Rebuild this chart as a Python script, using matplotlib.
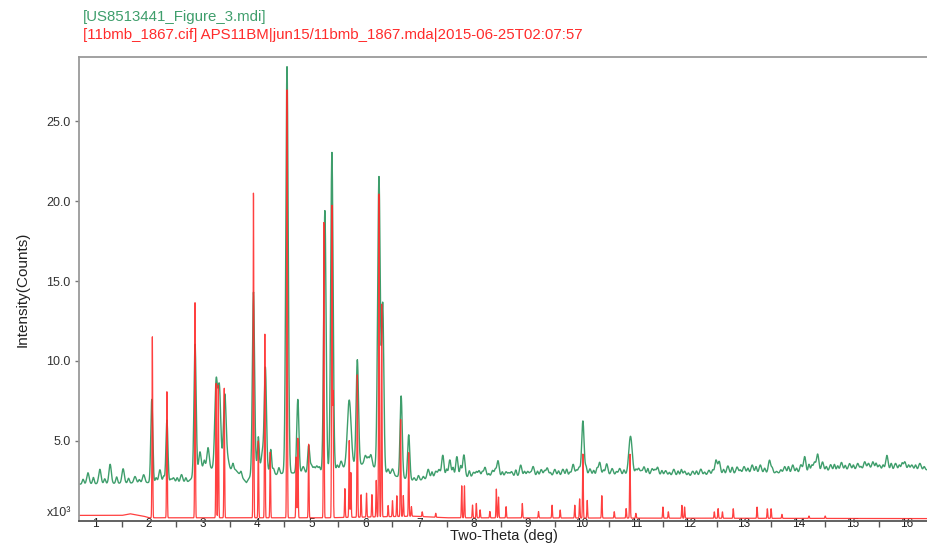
import numpy as np
import matplotlib
matplotlib.use("Agg")
import matplotlib.pyplot as plt
from matplotlib.ticker import MultipleLocator, FormatStrFormatter

plt.rcParams["font.family"] = ["Liberation Sans", "DejaVu Sans"]

# --- data (two-theta in deg, intensity in x10^3 counts) ---

# measured pattern (green): baseline anchors + peaks
green_base_pos = [0.7, 2.0, 2.7, 3.0, 3.6, 3.8, 4.0, 4.35, 4.5, 5.0, 5.5, 6.0,
                  6.45, 6.9, 7.3, 9.0, 11.0, 12.0, 13.0, 14.0, 15.0, 16.4]
green_base_val = [2.3, 2.4, 2.4, 3.3, 3.2, 2.4, 3.5, 2.9, 3.0, 3.0, 3.2, 3.6,
                  2.9, 2.5, 2.7, 2.8, 2.9, 2.8, 3.0, 3.0, 3.2, 3.2]

green_peak_pos = [2.05, 2.33, 2.85, 3.24, 3.30, 3.40, 3.93, 4.02, 4.15, 4.25,
                  4.55, 4.75, 4.95, 5.25, 5.38, 5.70, 5.85, 6.25, 6.32, 6.66,
                  6.80, 10.02, 10.90]
green_peak_hgt = [5.2, 3.9, 8.2, 5.4, 5.0, 4.7, 11.2, 1.8, 6.3, 1.4,
                  25.4, 4.6, 1.7, 16.3, 19.9, 4.2, 6.6, 18.3, 10.3, 5.1,
                  2.8, 3.4, 2.4]
green_peak_wid = [0.018, 0.018, 0.02, 0.025, 0.025, 0.025, 0.02, 0.015, 0.02, 0.015,
                  0.022, 0.02, 0.018, 0.022, 0.022, 0.035, 0.022, 0.024, 0.02, 0.02,
                  0.02, 0.022, 0.032]

green_bump_pos = [0.87, 1.09, 1.28, 1.52, 1.74, 1.90, 2.20, 2.45, 2.60, 2.94,
                  3.09, 3.46, 4.10, 4.85, 5.00, 5.10, 5.55, 6.00, 6.10, 6.50,
                  7.16, 7.30, 7.36, 7.43, 7.56, 7.69, 7.82, 8.00, 8.10, 8.21,
                  8.35, 8.45, 8.60, 8.70, 8.87, 9.00, 9.10, 9.25, 9.36, 9.50,
                  9.65, 9.84, 9.95, 10.15, 10.33, 10.46, 10.56, 10.70, 11.05, 11.15,
                  11.30, 11.40, 11.55, 11.70, 11.90, 12.05, 12.20, 12.35, 12.48, 12.54,
                  12.70, 12.87, 13.00, 13.15, 13.30, 13.47, 13.75, 13.90, 14.05, 14.12,
                  14.30, 14.36, 14.45, 14.60, 14.80, 14.95, 15.10, 15.23, 15.30, 15.38,
                  15.50, 15.64, 15.80, 15.97, 16.10, 16.25]
green_bump_hgt = [0.7, 0.9, 1.2, 0.9, 0.4, 0.5, 0.8, 0.3, 0.5, 1.2,
                  1.3, 0.5, 1.0, 0.4, 0.5, 0.4, 0.5, 0.5, 0.7, 0.4,
                  0.6, 0.4, 0.5, 1.4, 1.1, 1.3, 1.4, 0.3, 0.4, 0.6,
                  0.4, 1.0, 0.3, 0.3, 0.7, 0.3, 0.6, 0.4, 0.5, 0.4,
                  0.4, 0.7, 0.5, 0.4, 0.8, 0.7, 0.4, 0.4, 0.4, 0.5,
                  0.4, 0.5, 0.3, 0.4, 0.3, 0.3, 0.4, 0.3, 0.9, 0.8,
                  0.5, 0.4, 0.4, 0.5, 0.5, 0.8, 0.4, 0.5, 0.5, 1.0,
                  0.6, 1.1, 0.6, 0.4, 0.5, 0.4, 0.4, 0.5, 0.4, 0.5,
                  0.3, 0.9, 0.4, 0.5, 0.3, 0.4]

# finer wiggles of the green trace between the bumps
green_ripple_pos = [0.78, 0.97, 1.18, 1.40, 1.62, 1.82, 2.13, 2.27, 2.40, 2.52,
                    2.68, 3.02, 3.55, 3.70, 4.30, 4.40, 5.05, 5.15, 5.48, 6.05,
                    6.42, 6.90, 6.98, 7.07, 7.23, 7.50, 7.62, 7.76, 7.92, 8.05,
                    8.16, 8.28, 8.40, 8.53, 8.65, 8.78, 8.94, 9.05, 9.18, 9.31,
                    9.42, 9.57, 9.72, 9.78, 9.90, 10.08, 10.22, 10.28, 10.40, 10.64,
                    10.78, 11.00, 11.10, 11.22, 11.35, 11.48, 11.62, 11.78, 11.84, 11.97,
                    12.12, 12.27, 12.42, 12.62, 12.78, 12.93, 13.07, 13.22, 13.38, 13.52,
                    13.60, 13.68, 13.82, 13.97, 14.20, 14.25, 14.52, 14.67, 14.73, 14.87,
                    15.02, 15.16, 15.44, 15.57, 15.72, 15.87, 15.92, 16.04, 16.17, 16.33]
green_ripple_hgt = [0.3, 0.4, 0.3, 0.4, 0.3, 0.2, 0.3, 0.4, 0.2, 0.3,
                    0.3, 0.5, 0.4, 0.3, 0.3, 0.4, 0.3, 0.3, 0.3, 0.4,
                    0.3, 0.2, 0.3, 0.2, 0.4, 0.5, 0.6, 0.7, 0.4, 0.3,
                    0.3, 0.2, 0.4, 0.3, 0.2, 0.4, 0.3, 0.2, 0.3, 0.3,
                    0.2, 0.3, 0.4, 0.2, 0.3, 0.5, 0.3, 0.4, 0.3, 0.2,
                    0.3, 0.3, 0.2, 0.4, 0.3, 0.3, 0.2, 0.3, 0.4, 0.2,
                    0.3, 0.2, 0.3, 0.3, 0.4, 0.2, 0.3, 0.4, 0.3, 0.3,
                    0.1, 0.2, 0.4, 0.3, 0.5, 0.4, 0.3, 0.4, 0.3, 0.3,
                    0.3, 0.2, 0.4, 0.3, 0.4, 0.3, 0.4, 0.3, 0.3, 0.2]

# reference pattern (red): baseline anchors + sharp peaks
red_base_pos = [0.7, 1.5, 1.65, 1.9, 2.0, 5.3, 6.9, 7.5, 16.4]
red_base_val = [0.35, 0.35, 0.45, 0.3, 0.2, 0.2, 0.3, 0.2, 0.15]

red_peak_pos = [2.06, 2.33, 2.85, 3.24, 3.28, 3.39, 3.93, 4.02, 4.14, 4.24,
                4.55, 4.72, 4.75, 4.95, 5.23, 5.38, 5.40, 5.62, 5.70, 5.73,
                5.85, 5.92, 6.02, 6.12, 6.20, 6.25, 6.30, 6.42, 6.50, 6.58,
                6.65, 6.70, 6.80, 6.85, 7.05, 7.30, 7.78, 7.83, 7.98, 8.05,
                8.12, 8.30, 8.42, 8.46, 8.60, 8.90, 9.20, 9.45, 9.60, 9.87,
                9.96, 10.02, 10.10, 10.37, 10.60, 10.82, 10.89, 11.00, 11.50, 11.60,
                11.85, 11.90, 12.45, 12.52, 12.60, 12.80, 13.24, 13.43, 13.50, 13.70,
                14.20, 14.50]
red_peak_hgt = [11.4, 7.9, 13.5, 8.4, 8.3, 8.1, 20.4, 4.8, 11.5, 4.1,
                26.8, 3.8, 5.0, 4.6, 18.6, 19.6, 7.8, 1.8, 4.8, 2.8,
                8.9, 1.4, 1.5, 1.4, 2.3, 20.2, 13.3, 0.7, 1.0, 1.3,
                6.1, 1.3, 4.0, 0.6, 0.3, 0.25, 2.0, 2.0, 0.8, 0.9,
                0.5, 0.4, 1.8, 1.3, 0.7, 0.9, 0.4, 0.8, 0.5, 0.8,
                1.2, 4.0, 1.1, 1.4, 0.4, 0.6, 4.0, 0.3, 0.7, 0.4,
                0.8, 0.7, 0.4, 0.6, 0.4, 0.6, 0.7, 0.6, 0.6, 0.25,
                0.15, 0.15]

# axis ticks
y_ticks = [5, 10, 15, 20, 25]
x_ticks = list(range(1, 17))

title_green = "[US8513441_Figure_3.mdi]"
title_red = "[11bmb_1867.cif] APS11BM|jun15/11bmb_1867.mda|2015-06-25T02:07:57"

GREEN = "#3f9e6c"
RED = "#ff2b2b"


def build_pattern(x, base_pos, base_val, pos, hgt, wid):
    """baseline + gaussian peaks"""
    y = np.interp(x, base_pos, base_val)
    for p, h, w in zip(pos, hgt, wid):
        y = y + h * np.exp(-0.5 * ((x - p) / w) ** 2)
    return y


tt = np.linspace(0.7, 16.4, 9000)
green = build_pattern(tt, green_base_pos, green_base_val,
                      green_peak_pos + green_bump_pos + green_ripple_pos,
                      green_peak_hgt + green_bump_hgt + green_ripple_hgt,
                      green_peak_wid + [0.022] * len(green_bump_pos)
                      + [0.016] * len(green_ripple_pos))
red = build_pattern(tt, red_base_pos, red_base_val,
                    red_peak_pos, red_peak_hgt, [0.0065] * len(red_peak_pos))

fig = plt.figure(figsize=(9.28, 5.44), dpi=100)
ax = fig.add_axes([0.0851, 0.0423, 0.9149, 0.8529])

ax.plot(tt, green, color=GREEN, lw=1.0)
ax.plot(tt, red, color=RED, lw=0.9, alpha=0.9)

ax.set_xlim(0.704, 16.40)
ax.set_ylim(0, 29.0)

ax.set_yticks(y_ticks)
ax.yaxis.set_major_formatter(FormatStrFormatter("%.1f"))
ax.set_xticks(x_ticks)
ax.xaxis.set_minor_locator(MultipleLocator(0.5))

ax.tick_params(axis="y", direction="out", length=3, width=1, colors="#777777",
               labelcolor="#333333", labelsize=9, pad=3)
# integer labels sit right under the axis, marks only at half-degrees
ax.tick_params(axis="x", which="major", length=0, labelcolor="#222222",
               labelsize=8.5, pad=-2)
ax.tick_params(axis="x", which="minor", direction="out", length=4, width=1,
               colors="#555555")

for side in ["top", "left"]:
    ax.spines[side].set_color("#9a9a9a")
    ax.spines[side].set_linewidth(1.3)
ax.spines["right"].set_visible(False)
ax.spines["bottom"].set_color("#555555")
ax.spines["bottom"].set_linewidth(1.3)

fig.text(0.543, 0.0065, "Two-Theta (deg)", fontsize=10.5, color="#222222",
         ha="center", va="baseline")
ax.set_ylabel("Intensity(Counts)", fontsize=11, color="#222222", labelpad=12)

fig.text(0.050, 0.052, "x10³", fontsize=9, color="#333333")
fig.text(0.0895, 0.969, title_green, fontsize=10.8, color=GREEN, va="center")
fig.text(0.0895, 0.935, title_red, fontsize=10.8, color=RED, va="center")

fig.savefig("out.png", dpi=100)
